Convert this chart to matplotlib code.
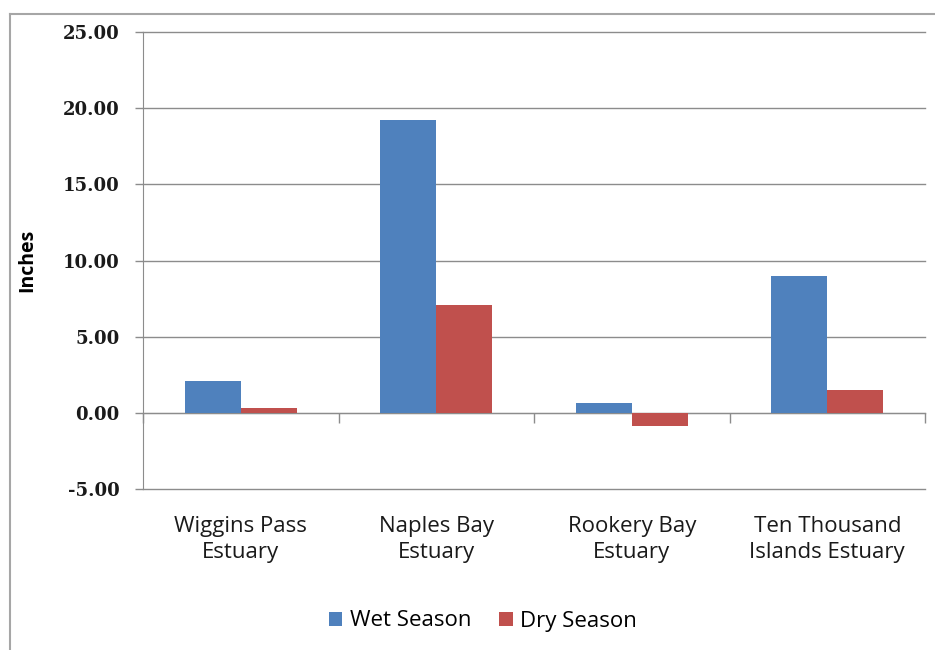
import matplotlib.pyplot as plt
import numpy as np
from matplotlib.lines import Line2D

# data
estuaries = ['Wiggins Pass\nEstuary', 'Naples Bay\nEstuary', 'Rookery Bay\nEstuary',
             'Ten Thousand\nIslands Estuary']
wet_season = [2.10, 19.25, 0.65, 8.95]
dry_season = [0.35, 7.10, -0.85, 1.50]
y_ticks = [-5, 0, 5, 10, 15, 20, 25]

blue = '#4F81BD'
red = '#C0504D'
grid_col = '#8C8C8C'

fig = plt.figure(figsize=(9.35, 6.5), dpi=100)
ax = fig.add_axes([143 / 935, 1 - 489 / 650, (925 - 143) / 935, (489 - 32) / 650])

# outer chart border
fig.add_artist(Line2D([10 / 935, 10 / 935], [0, 1 - 14 / 650], color='#A6A6A6', lw=1.5))
fig.add_artist(Line2D([10 / 935, 1], [1 - 14 / 650, 1 - 14 / 650], color='#A6A6A6', lw=1.5))

x = np.arange(len(estuaries))
w = 0.286
ax.bar(x - w / 2, wet_season, w, color=blue, label='Wet Season', zorder=3)
ax.bar(x + w / 2, dry_season, w, color=red, label='Dry Season', zorder=3)

ax.set_xlim(-0.5, 3.5)
ax.set_ylim(-5, 25)
ax.set_yticks(y_ticks)
ax.set_yticklabels(['%.2f' % v for v in y_ticks], fontsize=13, fontweight='bold',
                   family='DejaVu Serif', color='#1a1a1a')
ax.yaxis.grid(True, color=grid_col, lw=1)
for gl in ax.get_ygridlines():
    gl.set_clip_on(False)
ax.set_axisbelow(True)
ax.tick_params(axis='y', direction='out', length=6, color=grid_col, width=1, pad=11)

# zero axis with category separators
for s in ['top', 'right']:
    ax.spines[s].set_visible(False)
ax.spines['left'].set_color(grid_col)
ax.spines['bottom'].set_position(('data', 0))
ax.spines['bottom'].set_color(grid_col)
ax.set_xticks([])
ax.set_xticks(np.arange(-0.5, 4, 1), minor=True)
ax.tick_params(axis='x', which='minor', direction='out', length=7, color=grid_col, width=1)

for xi, name in zip(x, estuaries):
    ax.text(xi, -0.058, name, transform=ax.get_xaxis_transform(), ha='center', va='top',
            fontsize=16, family='Open Sans', color='#1a1a1a', linespacing=1.35)

ax.set_ylabel('Inches', fontsize=14, fontweight='bold', family='Open Sans')
ax.yaxis.set_label_coords((37 - 143) / 782, 0.5)

ax.legend(loc='center', bbox_to_anchor=(483 / 935, 1 - 621 / 650), bbox_transform=fig.transFigure,
          ncol=2, frameon=False, prop={'family': 'Open Sans', 'size': 16},
          handlelength=0.6, handleheight=0.6, columnspacing=1.25, handletextpad=0.35)

fig.savefig('out.png', dpi=100)
